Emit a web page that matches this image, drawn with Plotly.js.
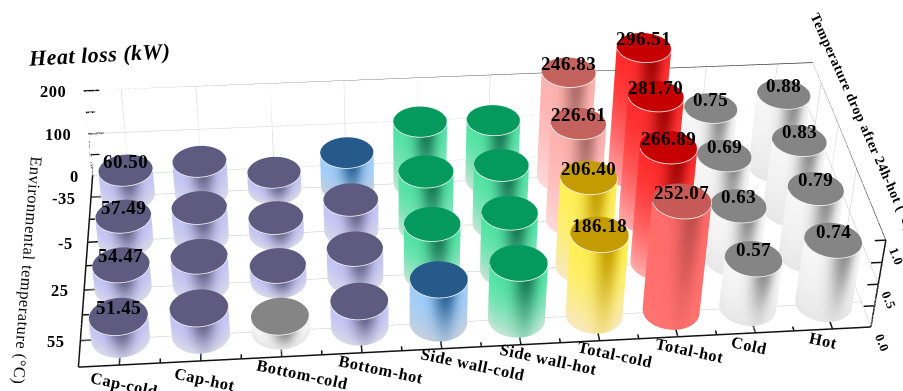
<!DOCTYPE html>
<html>
<head>
<meta charset="utf-8">
<script src="https://cdn.plot.ly/plotly-3.0.1.min.js"></script>
<style>
html,body{margin:0;padding:0;width:903px;height:391px;overflow:hidden;background:#fff}
#view{position:absolute;overflow:hidden;left:0;top:0;width:903px;height:391px}
#plot{position:absolute}
.annotation-text{letter-spacing:.5px}
</style>
</head>
<body>
<div id="view"><div id="plot"></div></div>
<script>
// Heat loss (kW) and 24 h temperature drop (°C) against environmental temperature.
const categories = ['Cap-cold','Cap-hot','Bottom-cold','Bottom-hot','Side wall-cold','Side wall-hot','Total-cold','Total-hot','Cold','Hot'];
const temperatures = [55, 25, -5, -35];
const capCold = [51.45, 54.47, 57.49, 60.50];
const capHot = [62, 66, 70, 74];
const bottomCold = [33.7, 35.9, 38.1, 40.3];
const bottomHot = [60, 67, 73, 80];
const sideWallCold = [101.03, 116.03, 131.02, 146.03];
const sideWallHot = [130.07, 133.89, 138.7, 142.51];
const totalCold = [186.18, 206.40, 226.61, 246.83];
const totalHot = [252.07, 266.89, 281.70, 296.51];
const dropCold = [0.57, 0.63, 0.69, 0.75];
const dropHot = [0.74, 0.79, 0.83, 0.88];
const heatTicks = [0, 100, 200];
const dropTicks = [0, 0.5, 1];

const heatSeries = [capCold, capHot, bottomCold, bottomHot, sideWallCold, sideWallHot, totalCold, totalHot];
const dropSeries = [dropCold, dropHot];
const labelled = {0:2, 6:2, 7:2, 8:2, 9:2};   // columns with value labels -> decimals
const DROP_SCALE = 200;                       // 1 °C of drop spans the same height as 200 kW
const RADIUS = 0.365;

// The plot area is enlarged and sits behind the window: this lengthens the fixed
// 45° perspective lens so that the box converges only gently.
const K = 4.5, W = Math.round(903 * K), H = Math.round(391 * K), OX = Math.round((W - 903) / 2) - 24, OY = Math.round((H - 391) / 2) + 3;
const plot = document.getElementById('plot');
plot.style.cssText = `left:${-OX}px;top:${-OY}px;width:${W}px;height:${H}px`;

const hex = c => [1, 3, 5].map(i => parseInt(c.substr(i, 2), 16));
const mix = (a, b, t) => a.map((v, i) => v + (b[i] - v) * t);
const rgb = c => `rgb(${c.map(v => Math.round(v)).join(',')})`;

const PALETTES = {
  grey:   {top:'#858585', edge:'#f6f6f6', dark:'#8e8e8e', low:'#e6e6e6'},
  purple: {top:'#5e5a80', edge:'#c4c4f6', dark:'#67648a', low:'#dcdce6'},
  blue:   {top:'#265a8a', edge:'#9fcdfb', dark:'#2c6499', low:'#c9d0da'},
  green:  {top:'#049a5e', edge:'#52e3a4', dark:'#177a55', low:'#cfe4da'},
  yellow: {top:'#c49b00', edge:'#fff055', dark:'#c6a000', low:'#f7e8c8'},
  pink:   {top:'#c4625e', edge:'#ffb2b0', dark:'#ad6c68', low:'#fddcdc'},
  coral:  {top:'#c75a56', edge:'#ff6c6a', dark:'#c04e4c', low:'#ff7472'},
  red:    {top:'#c60000', edge:'#ff2c2c', dark:'#a60606', low:'#ffb4b4'}
};
function paletteFor(kw, isDrop) {
  if (isDrop || kw < 35) return PALETTES.grey;
  if (kw < 78) return PALETTES.purple;
  if (kw < 105) return PALETTES.blue;
  if (kw < 180) return PALETTES.green;
  if (kw < 220) return PALETTES.yellow;
  if (kw < 250) return PALETTES.pink;
  if (kw < 260) return PALETTES.coral;
  return PALETTES.red;
}

// One cylinder as a mesh with colours painted per vertex.
function cylinder(cx, cy, h, pal) {
  const NT = 56, NH = 12, x = [], y = [], z = [], col = [], i = [], j = [], k = [];
  const edge = hex(pal.edge), dark = hex(pal.dark), low = hex(pal.low), top = rgb(hex(pal.top));
  for (let r = 0; r <= NH; r++) {
    const hf = r / NH;
    for (let t = 0; t <= NT; t++) {
      const a = 2 * Math.PI * t / NT;
      x.push(cx + RADIUS * Math.cos(a)); y.push(cy + RADIUS * Math.sin(a)); z.push(h * hf);
      const d = a - (1.5 * Math.PI + 0.15);
      const s = Math.exp(-(d * d) / (0.42 * 0.42));
      let c = mix(edge, dark, s * (0.3 + 0.7 * hf));
      c = mix(c, low, Math.pow(1 - hf, 1.6) * (0.95 - 0.35 * s));
      col.push(rgb(c));
    }
  }
  for (let r = 0; r < NH; r++) for (let t = 0; t < NT; t++) {
    const p = r * (NT + 1) + t, q = p + NT + 1;
    i.push(p, p); j.push(p + 1, q + 1); k.push(q + 1, q);
  }
  const base = x.length;
  x.push(cx); y.push(cy); z.push(h); col.push(top);
  for (let t = 0; t <= NT; t++) {
    const a = 2 * Math.PI * t / NT;
    x.push(cx + RADIUS * Math.cos(a)); y.push(cy + RADIUS * Math.sin(a)); z.push(h); col.push(top);
    if (t < NT) { i.push(base); j.push(base + 1 + t); k.push(base + 2 + t); }
  }
  return {type:'mesh3d', x, y, z, i, j, k, vertexcolor:col, flatshading:false,
    lighting:{ambient:1, diffuse:0, specular:0, roughness:1, fresnel:0}, hoverinfo:'skip', showscale:false};
}
// White rim along the near half of a bar's top.
function rim(cx, cy, h) {
  const x = [], y = [], z = [];
  for (let t = 0; t <= 40; t++) {
    const a = Math.PI + Math.PI * t / 40;
    x.push(cx + RADIUS * Math.cos(a)); y.push(cy + RADIUS * Math.sin(a)); z.push(h + 0.3);
  }
  return {type:'scatter3d', mode:'lines', x, y, z, line:{color:'#f2f2f2', width:1.6}, hoverinfo:'skip', showlegend:false};
}
// Polyline set, segments separated by gaps.
function segments(list, color, width) {
  const x = [], y = [], z = [];
  list.forEach(s => { s.forEach(p => { x.push(p[0]); y.push(p[1]); z.push(p[2]); }); x.push(null); y.push(null); z.push(null); });
  return {type:'scatter3d', mode:'lines', x, y, z, connectgaps:false, line:{color, width}, hoverinfo:'skip', showlegend:false};
}

const X0 = -0.5, X1 = 9.5, Y0 = -0.5, Y1 = 3.5, ZT = 200;
const traces = [];

// Grid on the floor, back wall and right wall.
const grid = [];
categories.forEach((_, c) => { grid.push([[c, Y0, 0], [c, Y1, 0]]); grid.push([[c, Y1, 0], [c, Y1, ZT]]); });
temperatures.forEach((_, r) => { grid.push([[X0, r, 0], [X1, r, 0]]); grid.push([[X1, r, 0], [X1, r, ZT]]); });
heatTicks.slice(1).forEach(v => { grid.push([[X0, Y1, v], [X1, Y1, v]]); grid.push([[X1, Y0, v], [X1, Y1, v]]); });
grid.push([[X0, Y1, 0], [X1, Y1, 0]]);
grid.push([[X1, Y0, 0], [X1, Y1, 0]]);
traces.push(segments(grid, '#cfcfcf', 1.2));

// Box edges and tick marks.
const frame = [
  [[X0, Y0, 0], [X1, Y0, 0]], [[X0, Y0, 0], [X0, Y1, 0]], [[X0, Y1, 0], [X0, Y1, ZT]], [[X1, Y0, 0], [X1, Y0, ZT]]
];
const T = 0.14;
for (let c = -0.5; c <= 9.5; c += 0.5) if (c > X0 && c < X1) frame.push([[c, Y0, 0], [c, Y0 + (Number.isInteger(c) ? T : T * 0.6), 0]]);
for (let r = 0; r <= 3; r += 0.5) frame.push([[X0, r, 0], [X0 + (Number.isInteger(r) ? T : T * 0.6), r, 0]]);
for (let v = 50; v <= ZT; v += 50) frame.push([[X0, Y1, v], [X0 + (v % 100 === 0 ? T * 1.5 : T * 0.9), Y1, v]]);
for (let v = 0.25; v <= 1; v += 0.25) frame.push([[X1, Y0, v * DROP_SCALE], [X1 - T, Y0, v * DROP_SCALE]]);
traces.push(segments(frame, '#111111', 3));
traces.push(segments([[[X0, Y1, ZT], [X1, Y1, ZT]], [[X1, Y1, ZT], [X1, Y0, ZT]]], '#333333', 1.5));

// Bars.
const sceneNotes = [];
const valueFont = {family:'Liberation Serif', size:19, color:'#000', weight:700};
const addBar = (c, r, value, isDrop) => {
  const h = isDrop ? value * DROP_SCALE : value;
  traces.push(cylinder(c, r, h, paletteFor(h, isDrop)));
  traces.push(rim(c, r, h));
  if (labelled[c] !== undefined) {
    sceneNotes.push({x:c, y:r, z:h, text:value.toFixed(2), showarrow:false, yshift:9, font:valueFont});
  }
};
heatSeries.forEach((vals, c) => vals.forEach((v, r) => addBar(c, r, v, false)));
dropSeries.forEach((vals, c) => vals.forEach((v, r) => addBar(c + heatSeries.length, r, v, true)));

// Tick labels anchored to the scene.
const tickFont = {family:'Liberation Serif', size:16.5, color:'#000', weight:700};
const labelShift = [5, 4, 21, 19, 31, 28, 15, 12, -6, -10];
categories.forEach((name, c) => sceneNotes.push({x:c, y:Y0, z:0, text:name, showarrow:false, textangle:12,
  xshift:labelShift[c], yshift:-19 + c * 0.8, font:{family:'Liberation Serif', size:16.5, color:'#000', weight:700}}));
temperatures.forEach((t, r) => sceneNotes.push({x:X0, y:r, z:0, text:String(t), showarrow:false, xanchor:'right', xshift:-13, yshift:-1, font:tickFont}));
heatTicks.forEach(v => sceneNotes.push({x:X0, y:Y1, z:v, text:String(v), showarrow:false, xanchor:'right', xshift:-12 - Math.min(v, 100) * 0.03, yshift:-1, font:tickFont}));
dropTicks.forEach(v => sceneNotes.push({x:X1, y:Y0, z:v * DROP_SCALE, text:v.toFixed(1), showarrow:false, textangle:68,
  xshift:11, yshift:-16, font:{family:'Liberation Serif', size:13, color:'#000', weight:700}}));

// Window-pixel placement for the free-standing titles.
const note = (px, py, text, angle, font) => ({xref:'paper', yref:'paper', x:(px + OX) / W, y:1 - (py + OY) / H,
  xanchor:'center', yanchor:'middle', text, textangle:angle, showarrow:false, font});
const layout = {
  width:W, height:H, margin:{l:0, r:0, t:0, b:0}, paper_bgcolor:'#fff', showlegend:false,
  annotations:[
    note(99, 55, '<b><i>Heat loss (kW)</i></b>', -3, {family:'Liberation Serif', size:22, color:'#000'}),
    note(28, 270, 'Environmental temperature (°C)', 94.5, {family:'Liberation Serif', size:16.5, color:'#000'}),
    note(862, 122, '<b>Temperature drop after 24h-hot (°C)</b>', 66, {family:'Liberation Serif', size:14, color:'#000'})
  ],
  scene:{
    domain:{x:[0, 1], y:[0, 1]},
    aspectmode:'manual', aspectratio:{x:2, y:0.8, z:0.451},
    xaxis:{range:[X0, X1], visible:false},
    yaxis:{range:[Y0, Y1], visible:false},
    zaxis:{range:[0, 320], visible:false},
    dragmode:false,
    camera:{
      projection:{type:'perspective'},
      center:{x:0.02, y:0, z:-0.04},
      up:{x:-0.02, y:0, z:1},
      eye:{x:-0.487, y:-4.41, z:3.28}
    },
    annotations:sceneNotes
  }
};
Plotly.newPlot(plot, traces, layout, {displayModeBar:false});
</script>
</body>
</html>
